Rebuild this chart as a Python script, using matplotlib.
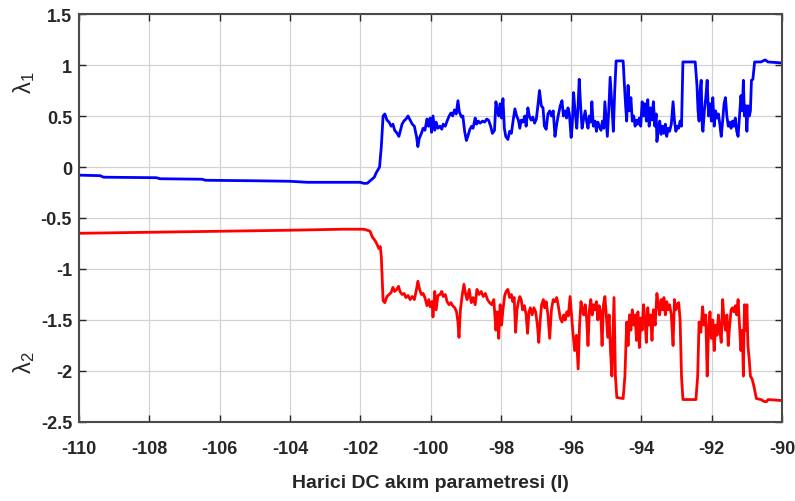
import numpy as np
import matplotlib
matplotlib.use("Agg")
import matplotlib.pyplot as plt

plt.rcParams['font.family'] = ['Liberation Sans', 'DejaVu Sans']
plt.rcParams['mathtext.default'] = 'regular'

# lambda_1 (blue)
I1 = [-110, -109.4, -109.3, -107.8, -107.7, -106.5, -106.4, -105, -104, -103.5, -102.2,
      -102.0, -101.9, -101.8, -101.7, -101.6, -101.55, -101.5, -101.45, -101.4,
      -101.35, -101.30, -101.24, -101.18, -101.12, -101.07, -101.02, -100.95, -100.90, -100.87,
      -100.81, -100.76, -100.70, -100.64, -100.58, -100.52, -100.46, -100.40, -100.36, -100.32,
      -100.26, -100.21, -100.16, -100.10, -100.06, -100.01, -99.97, -99.93, -99.88, -99.84,
      -99.79, -99.73, -99.68, -99.64, -99.58, -99.53, -99.47, -99.42, -99.37, -99.32,
      -99.27, -99.22, -99.18, -99.12, -99.08, -99.03, -98.98, -98.94, -98.88, -98.83,
      -98.79, -98.73, -98.69, -98.64, -98.59, -98.52, -98.46, -98.40, -98.35, -98.29,
      -98.24, -98.18, -98.14, -98.10, -98.06, -98.02, -97.98, -97.94, -97.90, -97.86,
      -97.80, -97.75, -97.70, -97.64, -97.60, -97.55, -97.50, -97.46, -97.42, -97.37,
      -97.32, -97.28, -97.23, -97.19, -97.14, -97.09, -97.04, -96.99, -96.94, -96.90,
      -96.85, -96.80, -96.76, -96.71, -96.66, -96.61, -96.56, -96.51, -96.46, -96.41,
      -96.37, -96.31, -96.26, -96.22, -96.17, -96.13, -96.09, -96.05, -96.00, -95.97,
      -95.93, -95.89, -95.84, -95.80, -95.77, -95.73, -95.69, -95.65, -95.60, -95.56,
      -95.52, -95.48, -95.44, -95.41, -95.37, -95.32, -95.28, -95.24, -95.20, -95.15,
      -95.11, -95.07, -95.04, -95.00, -94.97, -94.93, -94.89, -94.84, -94.80, -94.76,
      -94.72, -94.52, -94.49, -94.45, -94.42, -94.38, -94.34, -94.30, -94.26, -94.22,
      -94.18, -94.14, -94.10, -94.06, -94.02, -93.98, -93.94, -93.90, -93.86, -93.82,
      -93.78, -93.74, -93.70, -93.66, -93.62, -93.58, -93.56, -93.52, -93.48, -93.44,
      -93.40, -93.36, -93.32, -93.28, -93.24, -93.20, -93.15, -93.10, -93.06, -93.02,
      -92.98, -92.94, -92.90, -92.86, -92.82, -92.47, -92.42, -92.39, -92.36, -92.33,
      -92.30, -92.27, -92.25, -92.21, -92.17, -92.13, -92.09, -92.05, -92.01, -91.97,
      -91.93, -91.89, -91.85, -91.81, -91.77, -91.73, -91.69, -91.65, -91.61, -91.57,
      -91.53, -91.49, -91.45, -91.41, -91.37, -91.33, -91.29, -91.25, -91.21, -91.17,
      -91.13, -91.10, -91.07, -91.03, -91.00, -90.97, -90.93, -90.90, -90.87, -90.83,
      -90.78, -90.60, -90.48, -90.40, -90.00]
lam1 = [-0.08, -0.085, -0.10, -0.105, -0.115, -0.12, -0.13, -0.135, -0.14, -0.15, -0.15,
        -0.15, -0.16, -0.16, -0.13, -0.10, -0.06, -0.03, 0.0, 0.2,
        0.50, 0.52, 0.46, 0.44, 0.40, 0.42, 0.36, 0.33, 0.30, 0.34,
        0.42, 0.45, 0.47, 0.50, 0.46, 0.42, 0.40, 0.30, 0.20, 0.28,
        0.33, 0.38, 0.36, 0.47, 0.40, 0.48, 0.34, 0.50, 0.36, 0.44,
        0.38, 0.40, 0.37, 0.42, 0.40, 0.45, 0.50, 0.53, 0.50, 0.56,
        0.52, 0.65, 0.54, 0.49, 0.50, 0.35, 0.26, 0.30, 0.37, 0.40,
        0.38, 0.48, 0.42, 0.45, 0.43, 0.45, 0.44, 0.47, 0.46, 0.40,
        0.33, 0.36, 0.64, 0.56, 0.50, 0.62, 0.48, 0.67, 0.38, 0.30,
        0.27, 0.35, 0.33, 0.48, 0.57, 0.50, 0.46, 0.38, 0.46, 0.44,
        0.50, 0.40, 0.58, 0.50, 0.46, 0.49, 0.43, 0.47, 0.62, 0.75,
        0.60, 0.58, 0.40, 0.37, 0.52, 0.55, 0.50, 0.55, 0.30, 0.42,
        0.50, 0.60, 0.65, 0.50, 0.55, 0.48, 0.58, 0.52, 0.29, 0.40,
        0.73, 0.55, 0.38, 0.62, 0.86, 0.60, 0.38, 0.46, 0.55, 0.45,
        0.38, 0.50, 0.44, 0.64, 0.40, 0.45, 0.35, 0.44, 0.40, 0.36,
        0.45, 0.38, 0.64, 0.45, 0.30, 0.55, 0.88, 0.60, 0.35, 0.75,
        1.04, 1.04, 0.84, 0.60, 0.45, 0.80, 0.55, 0.68, 0.45, 0.50,
        0.40, 0.46, 0.42, 0.48, 0.40, 0.64, 0.50, 0.62, 0.45, 0.66,
        0.40, 0.58, 0.46, 0.64, 0.40, 0.52, 0.25, 0.36, 0.45, 0.32,
        0.40, 0.33, 0.42, 0.30, 0.38, 0.35, 0.42, 0.64, 0.45, 0.35,
        0.40, 0.38, 0.45, 0.40, 1.03, 1.03, 0.80, 0.55, 0.45, 0.75,
        0.85, 0.40, 0.35, 0.55, 0.68, 0.85, 0.50, 0.62, 0.45, 0.68,
        0.40, 0.55, 0.48, 0.52, 0.42, 0.30, 0.45, 0.62, 0.68, 0.50,
        0.40, 0.44, 0.38, 0.45, 0.40, 0.48, 0.35, 0.30, 0.50, 0.70,
        0.55, 0.85, 0.50, 0.60, 0.35, 0.60, 0.50, 0.55, 0.85, 0.86,
        1.03, 1.03, 1.05, 1.03, 1.02]

# lambda_2 (red)
I2 = [-110, -108, -106, -104, -102.5, -102.0, -101.9, -101.8, -101.72, -101.65,
      -101.58, -101.52, -101.47, -101.43, -101.40, -101.35,
      -101.30, -101.24, -101.18, -101.12, -101.07, -101.02, -100.96, -100.91, -100.87, -100.81,
      -100.75, -100.70, -100.64, -100.58, -100.52, -100.46, -100.40, -100.36, -100.31, -100.26,
      -100.21, -100.16, -100.10, -100.05, -100.01, -99.96, -99.93, -99.88, -99.84, -99.79,
      -99.73, -99.68, -99.64, -99.58, -99.53, -99.47, -99.42, -99.37, -99.31, -99.26,
      -99.22, -99.19, -99.15, -99.10, -99.05, -99.00, -98.96, -98.90, -98.84, -98.79,
      -98.73, -98.68, -98.62, -98.56, -98.50, -98.44, -98.38, -98.32, -98.26, -98.20,
      -98.14, -98.10, -98.06, -98.02, -97.98, -97.94, -97.89, -97.85, -97.80, -97.75,
      -97.70, -97.66, -97.62, -97.58, -97.54, -97.50, -97.46, -97.42, -97.38, -97.33,
      -97.28, -97.24, -97.20, -97.16, -97.11, -97.06, -97.01, -96.96, -96.92, -96.88,
      -96.84, -96.79, -96.75, -96.71, -96.66, -96.61, -96.56, -96.51, -96.46, -96.41,
      -96.37, -96.31, -96.26, -96.21, -96.17, -96.12, -96.08, -96.03, -95.99, -95.95,
      -95.90, -95.85, -95.80, -95.76, -95.72, -95.68, -95.64, -95.60, -95.56, -95.52,
      -95.48, -95.44, -95.40, -95.36, -95.32, -95.28, -95.24, -95.20, -95.16, -95.12,
      -95.08, -95.04, -95.00, -94.96, -94.92, -94.88, -94.84, -94.78, -94.74, -94.70,
      -94.52, -94.47, -94.42, -94.38, -94.34, -94.30, -94.26, -94.22, -94.18, -94.14,
      -94.10, -94.06, -94.02, -93.98, -93.94, -93.90, -93.86, -93.82, -93.78, -93.74,
      -93.70, -93.66, -93.61, -93.56, -93.52, -93.48, -93.44, -93.40, -93.36, -93.32,
      -93.28, -93.24, -93.20, -93.15, -93.10, -93.06, -93.02, -92.98, -92.94, -92.90,
      -92.86, -92.82, -92.45, -92.40, -92.36, -92.31, -92.26, -92.22, -92.17, -92.13,
      -92.09, -92.05, -92.01, -91.97, -91.93, -91.89, -91.85, -91.81, -91.77, -91.73,
      -91.69, -91.65, -91.61, -91.57, -91.53, -91.49, -91.45, -91.41, -91.37, -91.33,
      -91.29, -91.25, -91.21, -91.17, -91.13, -91.10, -91.07, -91.03, -91.00, -90.97,
      -90.93, -90.90, -90.85, -90.80, -90.73, -90.60, -90.50, -90.44, -90.40, -90.00]
lam2 = [-0.65, -0.64, -0.63, -0.62, -0.61, -0.61, -0.61, -0.62, -0.63, -0.69,
        -0.72, -0.76, -0.80, -0.78, -0.88, -1.31,
        -1.33, -1.27, -1.25, -1.23, -1.18, -1.22, -1.20, -1.17, -1.22, -1.25,
        -1.24, -1.28, -1.26, -1.30, -1.27, -1.30, -1.20, -1.12, -1.20, -1.25,
        -1.24, -1.28, -1.36, -1.30, -1.37, -1.32, -1.47, -1.22, -1.40, -1.26,
        -1.25, -1.22, -1.27, -1.25, -1.32, -1.35, -1.33, -1.36, -1.38, -1.42,
        -1.52, -1.67, -1.40, -1.26, -1.15, -1.25, -1.30, -1.20, -1.33, -1.28,
        -1.35, -1.20, -1.25, -1.22, -1.27, -1.24, -1.30, -1.33, -1.35, -1.30,
        -1.60, -1.42, -1.68, -1.35, -1.55, -1.40, -1.26, -1.22, -1.20, -1.28,
        -1.25, -1.32, -1.28, -1.62, -1.40, -1.32, -1.27, -1.30, -1.40, -1.36,
        -1.45, -1.63, -1.42, -1.38, -1.45, -1.38, -1.42, -1.55, -1.72, -1.50,
        -1.35, -1.30, -1.38, -1.32, -1.45, -1.68, -1.40, -1.30, -1.32, -1.28,
        -1.35, -1.48, -1.52, -1.45, -1.50, -1.42, -1.46, -1.27, -1.45, -1.62,
        -1.80, -1.65, -1.98, -1.55, -1.32, -1.40, -1.45, -1.35, -1.48, -1.75,
        -1.40, -1.30, -1.45, -1.35, -1.40, -1.32, -1.50, -1.36, -1.42, -1.75,
        -1.35, -1.27, -1.45, -1.67, -1.45, -1.80, -2.05, -1.28, -2.05, -2.26,
        -2.27, -2.05, -1.52, -1.75, -1.45, -1.60, -1.40, -1.55, -1.45, -1.70,
        -1.42, -1.77, -1.48, -1.60, -1.35, -1.50, -1.72, -1.38, -1.55, -1.45,
        -1.70, -1.40, -1.55, -1.24, -1.35, -1.45, -1.30, -1.40, -1.28, -1.45,
        -1.32, -1.40, -1.35, -1.45, -1.75, -1.30, -1.40, -1.35, -1.33, -1.50,
        -2.05, -2.28, -2.28, -2.05, -1.52, -1.62, -1.37, -1.55, -1.45, -2.05,
        -1.60, -1.42, -1.68, -1.50, -1.80, -1.55, -1.65, -1.45, -1.60, -1.72,
        -1.30, -1.50, -1.60, -1.45, -1.75, -1.55, -1.40, -1.38, -1.42, -1.36,
        -1.45, -1.30, -1.55, -1.80, -1.60, -2.05, -1.35, -1.60, -1.35, -1.75,
        -1.90, -2.05, -2.08, -2.15, -2.27, -2.28, -2.30, -2.30, -2.28, -2.29]

xticks = np.arange(-110, -89, 2)
yticks = [-2.5, -2, -1.5, -1, -0.5, 0, 0.5, 1, 1.5]
ytick_labels = ['-2.5', '-2', '-1.5', '-1', '-0.5', '0', '0.5', '1', '1.5']

fig = plt.figure(figsize=(7.95, 5.02), dpi=100)
ax = fig.add_axes([0.0994, 0.1574, 0.8843, 0.8127])

ax.plot(I1, lam1, color='#0000ff', lw=2.0)
ax.plot(I2, lam2, color='#ff0000', lw=2.0)

ax.set_xlim(-110, -90)
ax.set_ylim(-2.5, 1.5)
ax.set_xticks(xticks)
ax.set_xticklabels([str(v) for v in xticks])
ax.set_yticks(yticks)
ax.set_yticklabels(ytick_labels)
ax.grid(True, color='#d3d3d3', lw=0.9)
ax.set_axisbelow(True)

ax.tick_params(direction='in', length=5, width=1, colors='#262626',
               top=True, right=True, labelsize=13)
ax.tick_params(axis='x', pad=13)
ax.tick_params(axis='y', pad=5)
for lab in ax.get_xticklabels() + ax.get_yticklabels():
    lab.set_fontweight('bold')
for s in ax.spines.values():
    s.set_color('#4a4a4a')
    s.set_linewidth(1.5)

ax.set_xlabel('Harici DC akım parametresi (I)', fontsize=14, fontweight='bold',
              color='#262626', labelpad=12)

fig.text(0.030, 0.836, r'$\lambda_1$', rotation=90, fontsize=17, color='#262626',
         ha='center', va='center')
fig.text(0.030, 0.278, r'$\lambda_2$', rotation=90, fontsize=17, color='#262626',
         ha='center', va='center')

fig.savefig('out.png', dpi=100)
